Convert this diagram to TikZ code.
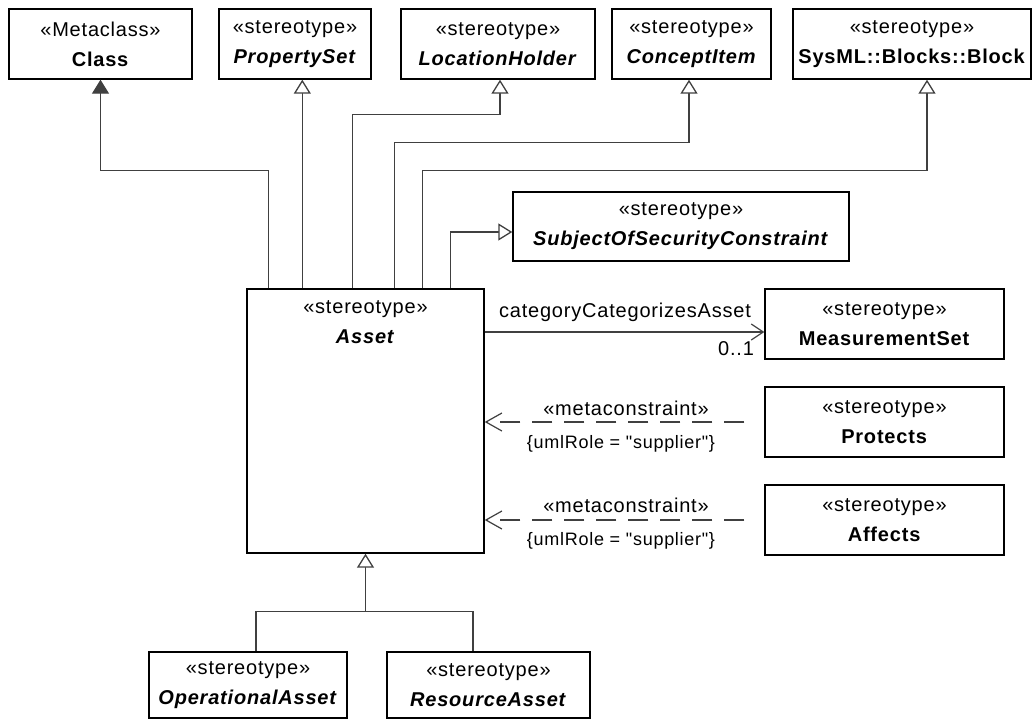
\documentclass[tikz,border=0pt]{standalone}
\usepackage{fontspec}
\setmainfont{Liberation Sans}[LetterSpace=4]
\newfontfamily\plainfont{Liberation Sans}[LetterSpace=4]
\usetikzlibrary{arrows.meta,calc}
\definecolor{conn}{HTML}{404040}
\begin{document}
\begin{tikzpicture}[x=1pt,y=-1pt,
  every node/.style={font=\fontsize{20}{30}\selectfont},
  umlbox/.style={draw=black,line width=1.4pt,fill=white,inner sep=0pt,align=center,minimum height=70pt},
  gen/.style={draw=conn,line width=1.3pt,-{Triangle[open,length=14pt,width=17pt,fill=white]}},
  genfill/.style={draw=conn,line width=1.3pt,-{Triangle[length=14pt,width=17pt,fill=conn]}},
  assoc/.style={draw=conn,line width=1.2pt,-{Straight Barb[length=12pt,width=16pt,line width=1.2pt]}},
  dep/.style={draw=conn,line width=1.2pt,dash pattern=on 20pt off 12pt,-{Straight Barb[length=16pt,width=18pt,line width=1.2pt]}},
  lbl/.style={inner sep=0pt,font=\fontsize{20}{24}\selectfont},
  cons/.style={inner sep=0pt,font=\plainfont\fontsize{18}{22}\selectfont}
]
\useasboundingbox[fill=white] (0,0) rectangle (1032,720);

% top row
\node[umlbox,minimum width=183pt] (cls) at (100.5,44) {«Metaclass»\\\textbf{Class}};
\node[umlbox,minimum width=152pt] (ps) at (295,44) {«stereotype»\\\textbf{\textit{PropertySet}}};
\node[umlbox,minimum width=194pt] (lh) at (498,44) {«stereotype»\\\textbf{\textit{LocationHolder}}};
\node[umlbox,minimum width=159pt] (ci) at (691.5,44) {«stereotype»\\\textbf{\textit{ConceptItem}}};
\node[umlbox,minimum width=238pt] (sb) at (912,44) {«stereotype»\\\textbf{SysML::Blocks::Block}};

% middle
\node[umlbox,minimum width=336pt,minimum height=69pt] (soc) at (681,226.5) {«stereotype»\\\textbf{\textit{SubjectOfSecurityConstraint}}};
\node[umlbox,minimum width=237pt,minimum height=264pt,
  label={[anchor=north,yshift=-9pt,align=center,font=\fontsize{20}{30}\selectfont]north:{«stereotype»\\\textbf{\textit{Asset}}}}] (asset) at (365.5,421) {};
\node[umlbox,minimum width=239pt] (ms) at (884.5,324) {«stereotype»\\\textbf{MeasurementSet}};
\node[umlbox,minimum width=239pt] (prot) at (884.5,422) {«stereotype»\\\textbf{Protects}};
\node[umlbox,minimum width=239pt] (aff) at (884.5,520) {«stereotype»\\\textbf{Affects}};

% bottom
\node[umlbox,minimum width=198pt,minimum height=66pt] (op) at (248,685) {«stereotype»\\\textbf{\textit{OperationalAsset}}};
\node[umlbox,minimum width=203pt,minimum height=66pt] (ra) at (488.5,685) {«stereotype»\\\textbf{\textit{ResourceAsset}}};

% generalizations from Asset
\coordinate (a1) at ([xshift=22pt]asset.north west);
\coordinate (a2) at ([xshift=56pt]asset.north west);
\coordinate (a3) at ([xshift=106pt]asset.north west);
\coordinate (a4) at ([xshift=148pt]asset.north west);
\coordinate (a5) at ([xshift=176pt]asset.north west);
\coordinate (a6) at ([xshift=204pt]asset.north west);
\coordinate (t2) at ([xshift=8pt]ps.south);
\coordinate (t3) at ([xshift=2pt]lh.south);
\coordinate (t4) at ([xshift=-2.5pt]ci.south);
\coordinate (t5) at ([xshift=15pt]sb.south);
\coordinate (t6) at ([yshift=-5.5pt]soc.west);

\draw[genfill] (a1) -- ++(0,-118) -| (cls.south);
\draw[gen] (a2) -- (a2 |- t2);
\draw[gen] (a3) -- ++(0,-174) -| (t3);
\draw[gen] (a4) -- ++(0,-146) -| (t4);
\draw[gen] (a5) -- ++(0,-118) -| (t5);
\draw[gen] (a6) |- (t6);

% specializations of Asset
\coordinate (j) at ([yshift=-58pt]asset.south);
\coordinate (b1) at ([xshift=8pt]op.north);
\coordinate (b2) at ([xshift=-15.5pt]ra.north);
\draw[draw=conn,line width=1.3pt] (b1) |- (j) -| (b2);
\draw[gen] (j) -- (asset.south);

% association
\coordinate (m1) at ([yshift=-8pt]ms.west);
\draw[assoc] (asset.east |- m1) -- (m1);
\node[lbl] (assocname) at (625,312) {categoryCategorizesAsset};
\node[lbl] (mult) at (736,349) {0..1};

% metaconstraints
\draw[dep,shorten <=20pt] (prot.west) -- (asset.east |- prot.west);
\draw[dep,shorten <=20pt] (aff.west) -- (asset.east |- aff.west);
\node[lbl] (mc1) at (626,408) {«metaconstraint»};
\node[cons] (ur1) at (621,444) {\{umlRole = "supplier"\}};
\node[lbl] (mc2) at (626,505) {«metaconstraint»};
\node[cons] (ur2) at (621,541) {\{umlRole = "supplier"\}};
\end{tikzpicture}
\end{document}
